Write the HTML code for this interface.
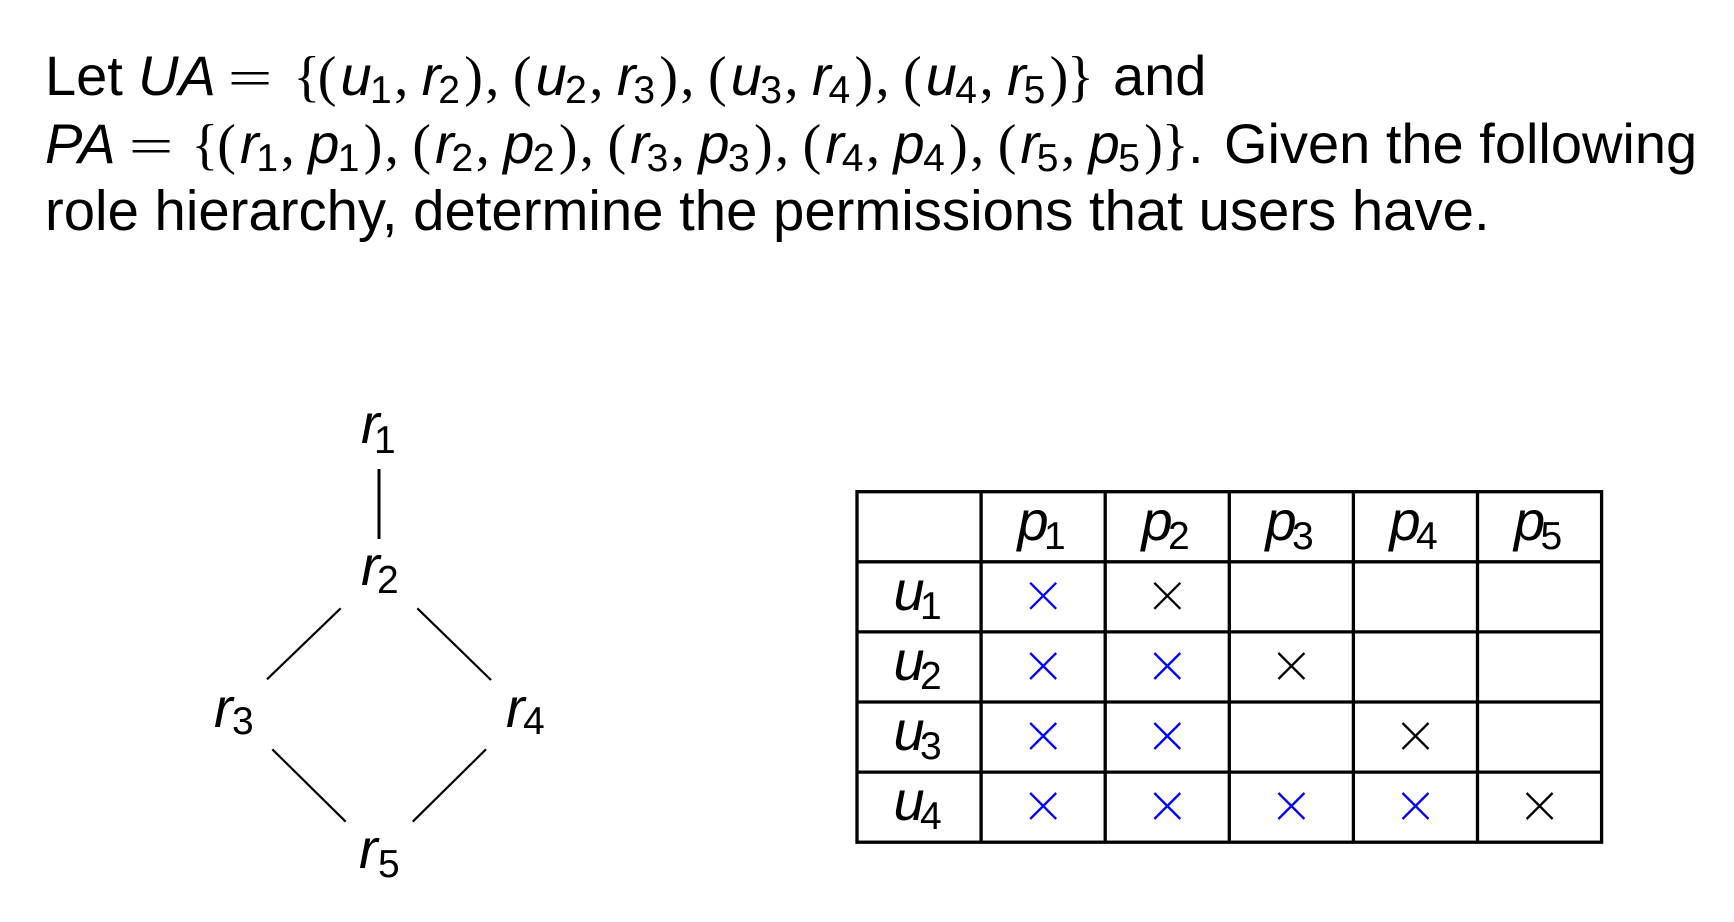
<!DOCTYPE html>
<html>
<head>
<meta charset="utf-8">
<style>
html,body{margin:0;padding:0;background:#fff;}
svg{display:block;}
.s{font-family:"Liberation Sans",Arial,sans-serif;font-size:56px;fill:#000;}
.i{font-family:"Liberation Sans",Arial,sans-serif;font-style:italic;font-size:56px;fill:#000;}
.b{font-family:"Liberation Serif","Times New Roman",serif;font-size:56px;fill:#000;}
.sb{font-family:"Liberation Sans",Arial,sans-serif;font-size:39px;fill:#000;}
</style>
</head>
<body>
<svg width="1734" height="922" viewBox="0 0 1734 922" xmlns="http://www.w3.org/2000/svg">
<rect width="1734" height="922" fill="#fff"/>

<!-- Line 1 -->
<text class="s" x="45" y="95">Let</text>
<text class="i" x="138" y="95">UA</text>
<text class="b" transform="translate(227.6,95) scale(1.42,0.9)" x="0" y="0">=</text>
<text class="b" x="293.4" y="95">{</text>

<text class="b" x="317.8" y="95">(</text>
<text class="i" x="340.5" y="95">u</text><text class="sb" x="370" y="103">1</text>
<text class="b" x="394.3" y="95">,</text>
<text class="i" x="421.8" y="95">r</text><text class="sb" x="438.3" y="103">2</text>
<text class="b" x="464.3" y="95">)</text><text class="b" x="485.3" y="95">,</text>

<text class="b" x="512.9" y="95">(</text>
<text class="i" x="535.6" y="95">u</text><text class="sb" x="565.1" y="103">2</text>
<text class="b" x="589.4" y="95">,</text>
<text class="i" x="616.9" y="95">r</text><text class="sb" x="633.4" y="103">3</text>
<text class="b" x="659.4" y="95">)</text><text class="b" x="680.4" y="95">,</text>

<text class="b" x="708" y="95">(</text>
<text class="i" x="730.7" y="95">u</text><text class="sb" x="760.2" y="103">3</text>
<text class="b" x="784.5" y="95">,</text>
<text class="i" x="812" y="95">r</text><text class="sb" x="828.5" y="103">4</text>
<text class="b" x="854.5" y="95">)</text><text class="b" x="875.5" y="95">,</text>

<text class="b" x="903.1" y="95">(</text>
<text class="i" x="925.8" y="95">u</text><text class="sb" x="955.3" y="103">4</text>
<text class="b" x="979.6" y="95">,</text>
<text class="i" x="1007.1" y="95">r</text><text class="sb" x="1023.6" y="103">5</text>
<text class="b" x="1049.6" y="95">)</text>
<text class="b" x="1067" y="95">}</text>
<text class="s" x="1113" y="95">and</text>

<!-- Line 2 -->
<text class="i" x="45" y="163">PA</text>
<text class="b" transform="translate(128.6,163) scale(1.42,0.9)" x="0" y="0">=</text>
<text class="b" x="191.4" y="163">{</text>

<text class="b" x="217.3" y="163">(</text>
<text class="i" x="240" y="163">r</text><text class="sb" x="256.4" y="171">1</text>
<text class="b" x="280.7" y="163">,</text>
<text class="i" x="308.2" y="163">p</text><text class="sb" x="337.8" y="171">1</text>
<text class="b" x="363.8" y="163">)</text><text class="b" x="384.8" y="163">,</text>

<text class="b" x="412.4" y="163">(</text>
<text class="i" x="435.1" y="163">r</text><text class="sb" x="451.5" y="171">2</text>
<text class="b" x="475.8" y="163">,</text>
<text class="i" x="503.3" y="163">p</text><text class="sb" x="532.9" y="171">2</text>
<text class="b" x="558.9" y="163">)</text><text class="b" x="579.9" y="163">,</text>

<text class="b" x="607.5" y="163">(</text>
<text class="i" x="630.2" y="163">r</text><text class="sb" x="646.6" y="171">3</text>
<text class="b" x="670.9" y="163">,</text>
<text class="i" x="698.4" y="163">p</text><text class="sb" x="728" y="171">3</text>
<text class="b" x="754" y="163">)</text><text class="b" x="775" y="163">,</text>

<text class="b" x="802.6" y="163">(</text>
<text class="i" x="825.3" y="163">r</text><text class="sb" x="841.7" y="171">4</text>
<text class="b" x="866" y="163">,</text>
<text class="i" x="893.5" y="163">p</text><text class="sb" x="923.1" y="171">4</text>
<text class="b" x="949.1" y="163">)</text><text class="b" x="970.1" y="163">,</text>

<text class="b" x="997.7" y="163">(</text>
<text class="i" x="1020.4" y="163">r</text><text class="sb" x="1036.8" y="171">5</text>
<text class="b" x="1061.1" y="163">,</text>
<text class="i" x="1088.6" y="163">p</text><text class="sb" x="1118.2" y="171">5</text>
<text class="b" x="1144.2" y="163">)</text>
<text class="b" x="1161.7" y="163">}</text>
<text class="s" x="1188" y="163">.</text>
<text class="s" x="1224" y="163">Given the following</text>

<!-- Line 3 -->
<text class="s" x="45" y="230" style="font-size:56.3px">role hierarchy, determine the permissions that users have.</text>

<!-- Role hierarchy diagram -->
<text class="i" x="361" y="443">r</text><text class="sb" x="374" y="453">1</text>
<text class="i" x="361" y="585">r</text><text class="sb" x="377" y="593">2</text>
<text class="i" x="214" y="727">r</text><text class="sb" x="232" y="734">3</text>
<text class="i" x="506" y="727">r</text><text class="sb" x="523" y="734">4</text>
<text class="i" x="359" y="868">r</text><text class="sb" x="378" y="877">5</text>

<g stroke="#000" fill="none">
<line x1="379" y1="469" x2="379" y2="539" stroke-width="3"/>
<line x1="340.7" y1="608.3" x2="267" y2="679.3" stroke-width="2.2"/>
<line x1="417.3" y1="608.3" x2="491" y2="680" stroke-width="2.2"/>
<line x1="272.3" y1="749.3" x2="345.7" y2="821.7" stroke-width="2.2"/>
<line x1="486" y1="749.3" x2="412.7" y2="821.7" stroke-width="2.2"/>
</g>

<!-- Table -->
<g stroke="#000" stroke-width="3.3" fill="none">
<rect x="857" y="491.7" width="744.6" height="350.5"/>
<line x1="981.1" y1="491.7" x2="981.1" y2="842.2"/>
<line x1="1105.2" y1="491.7" x2="1105.2" y2="842.2"/>
<line x1="1229.3" y1="491.7" x2="1229.3" y2="842.2"/>
<line x1="1353.4" y1="491.7" x2="1353.4" y2="842.2"/>
<line x1="1477.5" y1="491.7" x2="1477.5" y2="842.2"/>
<line x1="857" y1="561.8" x2="1601.6" y2="561.8"/>
<line x1="857" y1="631.9" x2="1601.6" y2="631.9"/>
<line x1="857" y1="702" x2="1601.6" y2="702"/>
<line x1="857" y1="772.1" x2="1601.6" y2="772.1"/>
</g>

<!-- header labels -->
<text class="i" x="1017.5" y="540">p</text><text class="sb" x="1044" y="549">1</text>
<text class="i" x="1141.5" y="540">p</text><text class="sb" x="1168" y="549">2</text>
<text class="i" x="1265.5" y="540">p</text><text class="sb" x="1292" y="549">3</text>
<text class="i" x="1389.5" y="540">p</text><text class="sb" x="1416" y="549">4</text>
<text class="i" x="1514" y="540">p</text><text class="sb" x="1540.5" y="549">5</text>

<!-- row labels -->
<text class="i" x="893.5" y="610">u</text><text class="sb" x="920" y="619">1</text>
<text class="i" x="893.5" y="680">u</text><text class="sb" x="920" y="689">2</text>
<text class="i" x="893.5" y="750">u</text><text class="sb" x="920" y="759">3</text>
<text class="i" x="893.5" y="820">u</text><text class="sb" x="920" y="829">4</text>

<!-- crosses -->
<defs>
<g id="xc"><line x1="-13" y1="-13" x2="13" y2="13"/><line x1="-13" y1="13" x2="13" y2="-13"/></g>
</defs>
<g stroke="#0000ff" stroke-width="2.3">
<use href="#xc" x="1043.2" y="595.8"/>
<use href="#xc" x="1043.2" y="666"/>
<use href="#xc" x="1167.3" y="666"/>
<use href="#xc" x="1043.2" y="736"/>
<use href="#xc" x="1167.3" y="736"/>
<use href="#xc" x="1043.2" y="806"/>
<use href="#xc" x="1167.3" y="806"/>
<use href="#xc" x="1291.4" y="806"/>
<use href="#xc" x="1415.5" y="806"/>
</g>
<g stroke="#000" stroke-width="2.3">
<use href="#xc" x="1167.3" y="595.8"/>
<use href="#xc" x="1291.4" y="666"/>
<use href="#xc" x="1415.5" y="736"/>
<use href="#xc" x="1539.6" y="806"/>
</g>
</svg>
</body>
</html>
